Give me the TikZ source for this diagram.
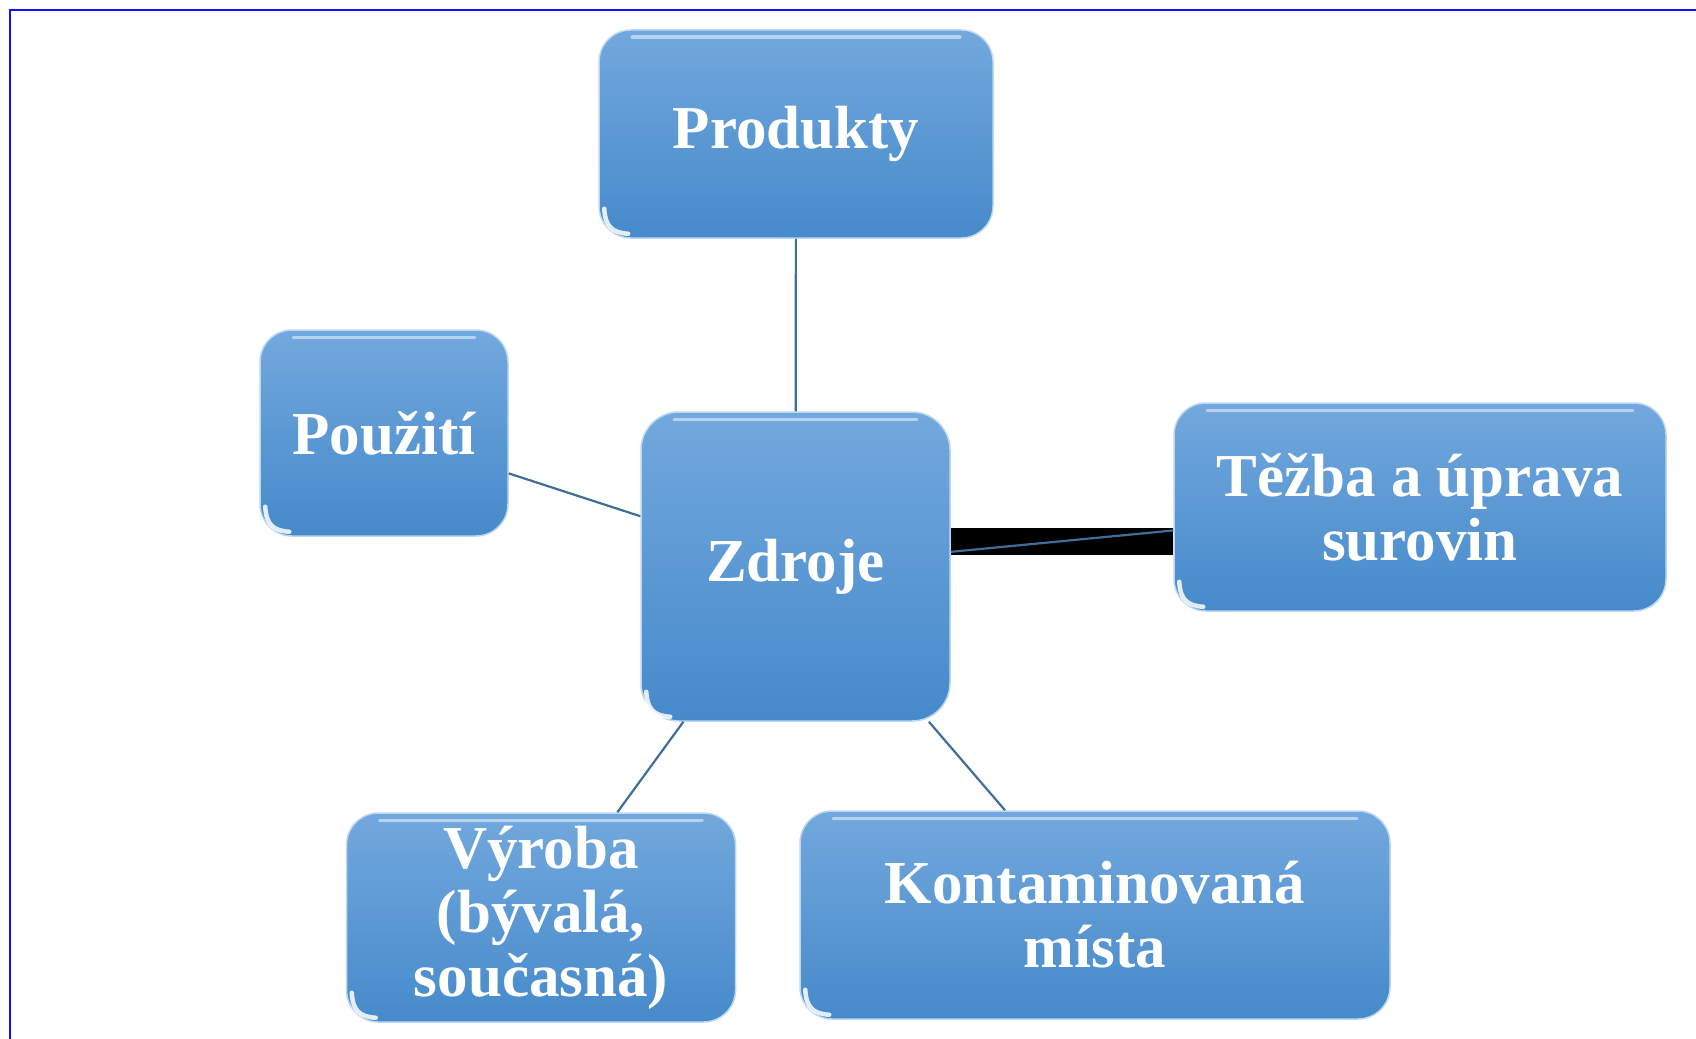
\documentclass[tikz,border=0pt]{standalone}
\usepackage{fontspec}
\setmainfont{Liberation Serif}
\usetikzlibrary{calc}
\definecolor{boxtop}{HTML}{72A8DD}
\definecolor{boxbot}{HTML}{468ACB}
\definecolor{boxedge}{HTML}{BCD8F1}
\definecolor{linkblue}{HTML}{3F6E99}
\definecolor{frameblue}{HTML}{1010F8}
\begin{document}
\begin{tikzpicture}[x=1pt,y=-1pt,
  topic/.style={rectangle, rounded corners=32pt, top color=boxtop, bottom color=boxbot,
    draw=boxedge, line width=1.5pt, text=white, align=center, inner sep=0pt,
    font=\fontsize{61}{64}\selectfont\bfseries},
  link/.style={draw=linkblue, line width=2.2pt},
  gloss/.style={white, opacity=0.5, line width=3.5pt, line cap=round},
  corner glow/.style={white, opacity=0.85, line width=4.5pt, line cap=round}]
  \useasboundingbox (0,0) rectangle (1696,1038);
  \fill[white] (0,0) rectangle (1696,1038);
  % page frame (top and left edges)
  \draw[frameblue, line width=2.2pt] (10,1040) -- (10,10) -- (1700,10);

  % topics
  \node[topic, minimum width=394pt, minimum height=208pt] (prod) at (796,134) {Produkty};
  \node[topic, minimum width=248pt, minimum height=206pt] (pouz) at (384,433) {Použití};
  \node[topic, minimum width=309pt, minimum height=309pt, rounded corners=38pt] (zdroje) at (795.5,566.5) {Zdroje};
  \node[topic, minimum width=492pt, minimum height=208pt] (tezba) at (1420,507) {Těžba a úprava\\surovin};
  \node[topic, minimum width=389pt, minimum height=209pt] (vyroba) at (541,917.5) {Výroba\\(bývalá,\\současná)};
  \node[topic, minimum width=590pt, minimum height=208pt] (kont) at (1095,915) {Kontaminovaná\\místa};

  % glossy highlights on each box
  \foreach \n in {prod,pouz,zdroje,tezba,vyroba,kont}{
    \draw[gloss] ($(\n.north west)+(34,8)$) -- ($(\n.north east)+(-34,8)$);
    \draw[corner glow] ($(\n.south west)+(6,-30)$) .. controls ($(\n.south west)+(7,-12)$) and ($(\n.south west)+(14,-6)$) .. ($(\n.south west)+(30,-5)$);
  }

  % connectors; a heavy black bar runs under the link to the mining box
  \fill[black] ($(zdroje.east)+(0,-38.5)$) rectangle ($(tezba.west |- zdroje.east)+(0,-11.5)$);
  \draw[link] (prod) -- (zdroje);
  \draw[link] (pouz) -- (zdroje);
  \draw[link] (tezba) -- (zdroje);
  \draw[link] (vyroba) -- (zdroje);
  \draw[link] (kont) -- (zdroje);
\end{tikzpicture}
\end{document}
